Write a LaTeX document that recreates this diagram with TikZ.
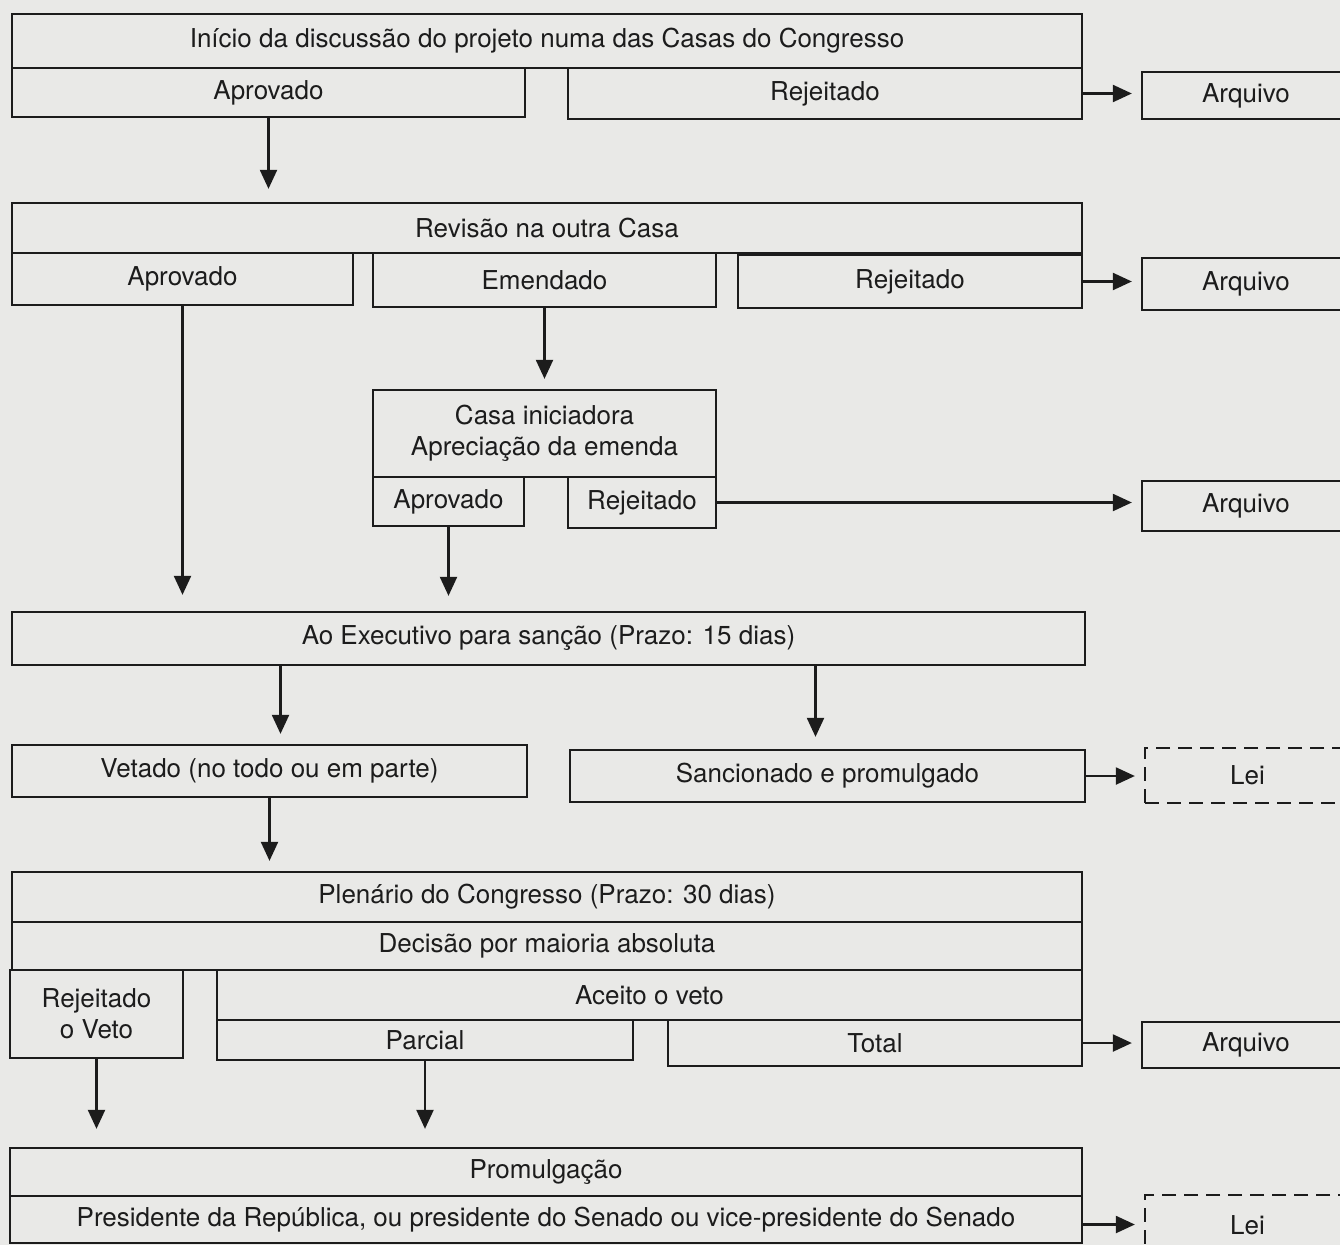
\documentclass[tikz,border=0pt]{standalone}
\usepackage{fontspec}
\setmainfont{TeX Gyre Heros}
\usetikzlibrary{arrows.meta}
\definecolor{papel}{RGB}{233,233,231}
\definecolor{tinta}{RGB}{28,28,28}
% caixa entre (x1,y1) e (x2,y2), em pixels da figura
\newcommand\Caixa[7][]{%
  \node[cell,#1,minimum width={(#5-#3)*1pt},minimum height={(#6-#4)*1pt}]
    (#2) at ({(#3+#5)/2},{(#4+#6)/2}) {#7};}

\begin{document}
\begin{tikzpicture}[x=1pt,y=-1pt,
cell/.style={
  draw=tinta, line width=2.3pt,
  rectangle, inner sep=0pt,
  align=center, text=tinta,
  font=\fontsize{26}{31}\selectfont
},
final/.style={dash pattern=on 14pt off 8pt},
flow/.style={draw=tinta, line width=2.2pt,
  -{Triangle[length=19pt,width=17pt]}},
toarq/.style={flow, shorten >=9pt}]
\useasboundingbox (0,0) rectangle (1340,1245);
\fill[papel] (0,0) rectangle (1340,1245);
\clip (0,0) rectangle (1340,1245);

% primeira casa
\Caixa{inicio}{12}{14}{1082}{68}{Início da discussão do projeto numa das Casas do Congresso}
\Caixa{aprovA}{12}{68}{525}{117}{Aprovado}
\Caixa{rejA}{568}{68}{1082}{119}{Rejeitado}
\Caixa{arqA}{1142}{72}{1350}{119}{Arquivo}

% casa revisora
\Caixa{revisao}{12}{203}{1082}{253}{Revisão na outra Casa}
\Caixa{aprovB}{12}{253}{353}{305}{Aprovado}
\Caixa{emenda}{373}{253}{716}{307}{Emendado}
\Caixa{rejB}{738}{255}{1082}{308}{Rejeitado}
\Caixa{arqB}{1142}{258}{1350}{310}{Arquivo}

% volta a casa iniciadora
\Caixa{casa}{373}{390}{716}{477}{Casa iniciadora\\Apreciação da emenda}
\Caixa{aprovC}{373}{477}{524}{526}{Aprovado}
\Caixa{rejC}{568}{477}{716}{528}{Rejeitado}
\Caixa{arqC}{1142}{481}{1350}{531}{Arquivo}

% executivo
\Caixa{exec}{12}{612}{1085}{665}{Ao Executivo para sanção (Prazo: 15 dias)}
\Caixa{vetado}{12}{745}{527}{797}{Vetado (no todo ou em parte)}
\Caixa{sancao}{570}{750}{1085}{802}{Sancionado e promulgado}
\Caixa[final]{leiA}{1145}{748}{1350}{803}{Lei}

% plenario
\Caixa{plenario}{12}{872}{1082}{922}{Plenário do Congresso (Prazo: 30 dias)}
\Caixa{decisao}{12}{922}{1082}{970}{Decisão por maioria absoluta}
\Caixa{rejveto}{10}{970}{183}{1058}{Rejeitado\\o Veto}
\Caixa{aceito}{217}{970}{1082}{1020}{Aceito o veto}
\Caixa{parcial}{217}{1020}{633}{1060}{Parcial}
\Caixa{total}{668}{1020}{1082}{1066}{Total}
\Caixa{arqD}{1142}{1022}{1350}{1068}{Arquivo}

% promulgacao
\Caixa{promulg}{10}{1148}{1082}{1196}{Promulgação}
\Caixa{presid}{10}{1196}{1082}{1243}{Presidente da República, ou presidente do Senado ou vice-presidente do Senado}
\Caixa[final]{leiB}{1145}{1195}{1350}{1256}{Lei}

% setas
\draw[flow, shorten >=13pt] (aprovA.south) -- (aprovA.south |- revisao.north);
\draw[toarq] (rejA.east) -- (rejA.east -| arqA.west);
\draw[toarq] (rejB.east) -- (rejB.east -| arqB.west);
\draw[flow, shorten >=10pt] (emenda.south) -- (emenda.south |- casa.north);
\draw[flow, shorten >=16pt] (aprovB.south) -- (aprovB.south |- exec.north);
\draw[flow, shorten >=15pt] (aprovC.south) -- (aprovC.south |- exec.north);
\draw[toarq] (rejC.east) -- (rejC.east -| arqC.west);
\draw[flow, shorten >=10pt] ([xshift=11pt]vetado.north |- exec.south) -- ([xshift=11pt]vetado.north);
\draw[flow, shorten >=12pt] ([xshift=-12pt]sancao.north |- exec.south) -- ([xshift=-12pt]sancao.north);
\draw[toarq] (sancao.east) -- (sancao.east -| leiA.west);
\draw[flow, shorten >=10pt] (vetado.south) -- (vetado.south |- plenario.north);
\draw[toarq] (total.east) -- (total.east -| arqD.west);
\draw[flow, shorten >=18pt] (rejveto.south) -- (rejveto.south |- promulg.north);
\draw[flow, shorten >=18pt] (parcial.south) -- (parcial.south |- promulg.north);
\draw[toarq] ([yshift=-5pt]presid.east) -- ([yshift=-5pt]presid.east -| leiB.west);
\end{tikzpicture}
\end{document}
